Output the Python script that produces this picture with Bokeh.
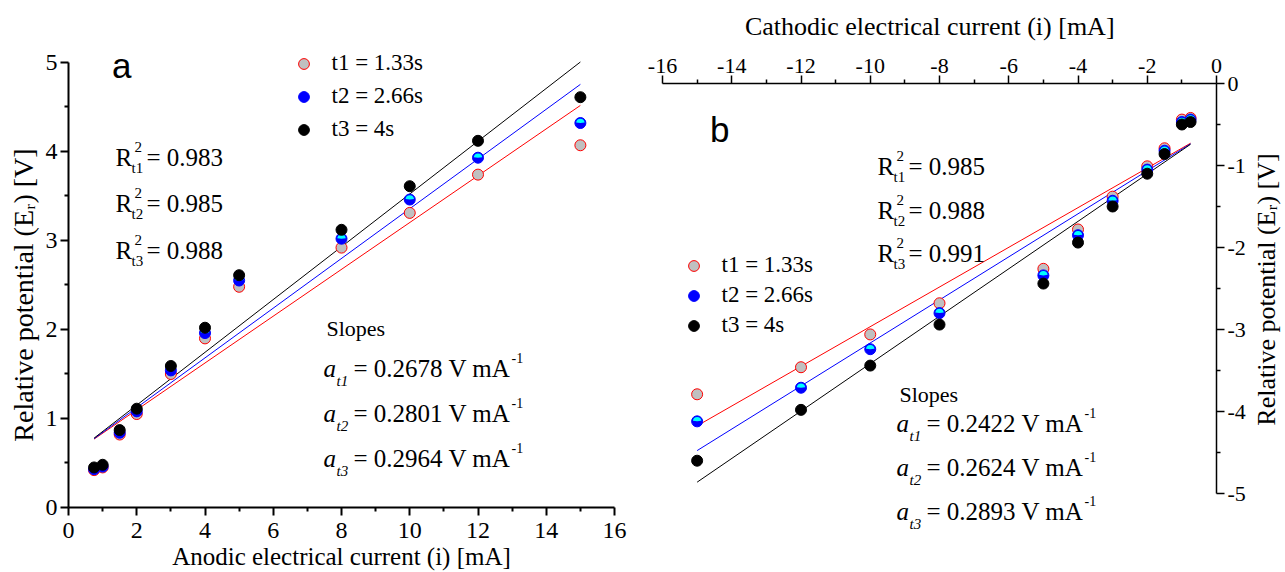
import numpy as np
from bokeh.plotting import figure
from bokeh.layouts import row
from bokeh.models import Label, Legend, LegendItem, FixedTicker, Range1d
from bokeh.embed import file_html
from bokeh.resources import INLINE

# ---------------- data ----------------
anodic_current = [0.75, 1, 1.5, 2, 3, 4, 5, 8, 10, 12, 15]
anodic_t1 = [0.42, 0.45, 0.82, 1.05, 1.50, 1.90, 2.48, 2.92, 3.31, 3.74, 4.07]
anodic_t2 = [0.43, 0.46, 0.84, 1.08, 1.54, 1.96, 2.55, 3.02, 3.46, 3.93, 4.32]
anodic_t3 = [0.45, 0.48, 0.87, 1.11, 1.59, 2.02, 2.61, 3.12, 3.61, 4.12, 4.61]

cathodic_current = [-15, -12, -10, -8, -5, -4, -3, -2, -1.5, -1, -0.75]
cathodic_t1 = [-3.79, -3.46, -3.06, -2.68, -2.26, -1.78, -1.38, -1.01, -0.79, -0.44, -0.42]
cathodic_t2 = [-4.12, -3.71, -3.24, -2.80, -2.34, -1.85, -1.43, -1.05, -0.82, -0.47, -0.44]
cathodic_t3 = [-4.60, -3.98, -3.44, -2.94, -2.44, -1.94, -1.50, -1.10, -0.86, -0.50, -0.47]

series_labels = ["t1 = 1.33s", "t2 = 2.66s", "t3 = 4s"]
r2_anodic = ["0.983", "0.985", "0.988"]
r2_cathodic = ["0.985", "0.988", "0.991"]
slopes_anodic = ["0.2678", "0.2801", "0.2964"]
slopes_cathodic = ["0.2422", "0.2624", "0.2893"]
subs = ["t1", "t2", "t3"]

x_ticks_a = [0, 2, 4, 6, 8, 10, 12, 14, 16]
x_minor_a = [1, 3, 5, 7, 9, 11, 13, 15]
y_ticks_a = [0, 1, 2, 3, 4, 5]
y_minor_a = [0.5, 1.5, 2.5, 3.5, 4.5]
x_ticks_c = [-16, -14, -12, -10, -8, -6, -4, -2, 0]
x_minor_c = [-15, -13, -11, -9, -7, -5, -3, -1]
y_ticks_c = [-5, -4, -3, -2, -1, 0]
y_minor_c = [-4.5, -3.5, -2.5, -1.5, -0.5]

title_anodic_x = "Anodic electrical current (i) [mA]"
title_cathodic_x = "Cathodic electrical current (i) [mA]"
title_potential = "Relative potential (E\u1d63) [V]"

SERIF = "Liberation Serif"
SANS = "Liberation Sans"
AX_FONT_L = "Times New Roman"
AX_FONT_R = "'Liberation Serif', serif"
NB = "\u00a0"  # non-breaking space, used to nudge centred axis titles


def style_axis(ax, lw, size, ticks, minor, font, standoff=3):
    ax.ticker = FixedTicker(ticks=ticks, minor_ticks=minor)
    ax.major_label_overrides = {t: str(t) for t in ticks}
    ax.axis_line_width = lw
    ax.axis_line_color = "black"
    ax.major_tick_line_width = lw
    ax.minor_tick_line_width = lw
    ax.major_tick_line_color = "black"
    ax.minor_tick_line_color = "black"
    ax.major_tick_in = 0
    ax.major_tick_out = 8
    ax.minor_tick_in = 0
    ax.minor_tick_out = 4
    ax.major_label_text_font = font
    ax.major_label_text_font_size = f"{size}px"
    ax.major_label_text_color = "black"
    ax.major_label_standoff = standoff
    ax.axis_label_text_font = font
    ax.axis_label_text_font_style = "normal"
    ax.axis_label_text_color = "black"


def put(fig, fl, fb, x, y, text, size, font=SERIF, style="normal", align="left", angle=0.0):
    fig.add_layout(Label(x=x - fl, y=fb - y, x_units="screen", y_units="screen", text=text,
                         text_font=font, text_font_size=f"{size}px", text_font_style=style,
                         text_align=align, text_baseline="alphabetic", angle=angle,
                         text_color="black"))


def draw_series(fig, x, ys):
    xa = np.array(x, dtype=float)
    colors = ["red", "blue", "black"]
    for yv, c in zip(ys, colors):
        k, b = np.polyfit(xa, np.array(yv, dtype=float), 1)
        xs = np.array([xa.min(), xa.max()])
        fig.line(xs, k * xs + b, line_color=c, line_width=1)
    r1 = fig.scatter(x, ys[0], size=11, fill_color="#c0c0c0", line_color="red", line_width=1)
    r2 = fig.scatter(x, ys[1], size=11, fill_color="blue", line_color="blue", line_width=1)
    fig.wedge(x, ys[1], radius=4.3, radius_units="screen", start_angle=0.12, end_angle=np.pi - 0.12,
              fill_color="cyan", line_color=None)
    r3 = fig.scatter(x, ys[2], size=11, fill_color="black", line_color="black", line_width=1)
    return [r1, r2, r3]


def add_legend(fig, rs, vx, vy, spacing, font):
    items = [LegendItem(label=l, renderers=[r]) for l, r in zip(series_labels, rs)]
    lg = Legend(items=items, location=(vx, vy), border_line_color=None, background_fill_alpha=0,
                padding=0, margin=0, spacing=spacing, glyph_width=27, glyph_height=27,
                label_standoff=15, label_text_font=font, label_text_font_size="23px",
                label_text_color="black", label_height=20)
    fig.add_layout(lg)


def r2_block(fig, fl, fb, x, ys, vals):
    for y, s, v in zip(ys, subs, vals):
        put(fig, fl, fb, x, y, "R", 25)
        put(fig, fl, fb, x + 19, y - 11, "2", 15)
        put(fig, fl, fb, x + 16, y + 10, s, 15)
        put(fig, fl, fb, x + 31, y, "= " + v, 25)


def slope_block(fig, fl, fb, x, ytitle, ys, vals):
    put(fig, fl, fb, x + 3, ytitle, "Slopes", 22)
    for y, s, v in zip(ys, subs, vals):
        put(fig, fl, fb, x, y, "a", 25, style="italic")
        put(fig, fl, fb, x + 13, y + 12, s, 15, style="italic")
        put(fig, fl, fb, x + 30, y, "= " + v + " V mA", 25)
        put(fig, fl, fb, x + 188, y - 11, "-1", 14)


H = 572

# ---------------- left panel (anodic) ----------------
# frame: x 68..614 (0..16), y 40..507; the axis itself stops at 5 (y=62)
FL1, FB1 = 68, 507
p1 = figure(width=640, height=H, x_range=Range1d(0, 16), y_range=Range1d(0, 5.247),
            output_backend="svg", toolbar_location=None,
            min_border_left=68, min_border_right=26, min_border_top=40, min_border_bottom=H - 507)
p1.frame_align = False
p1.outline_line_color = None
p1.grid.visible = False
style_axis(p1.xaxis[0], 2, 24, x_ticks_a, x_minor_a, AX_FONT_L, standoff=7)
style_axis(p1.yaxis[0], 2, 24, y_ticks_a, y_minor_a, AX_FONT_L)
p1.yaxis[0].bounds = (0, 5)
p1.xaxis[0].axis_label = title_anodic_x
p1.xaxis[0].axis_label_text_font_size = "25px"
p1.xaxis[0].axis_label_standoff = 2
p1.yaxis[0].axis_label = title_potential + NB * 6
p1.yaxis[0].axis_label_text_font_size = "28px"
p1.yaxis[0].axis_label_standoff = 4

rs1 = draw_series(p1, anodic_current, [anodic_t1, anodic_t2, anodic_t3])
add_legend(p1, rs1, 221.5, 364.5, 6, AX_FONT_L)

put(p1, FL1, FB1, 111.5, 65, "a", 35, font=SANS)
r2_block(p1, FL1, FB1, 115, [157, 203, 250], r2_anodic)
slope_block(p1, FL1, FB1, 323, 328, [368, 413, 458], slopes_anodic)

# ---------------- right panel (cathodic) ----------------
# frame: x 662..1216 (-16..0), y 83..530; the axis itself stops at -5 (y=493)
FL2, FB2 = 662, 530
p2 = figure(width=608, height=H, x_range=Range1d(-16, 0), y_range=Range1d(-5.451, 0),
            x_axis_location="above", y_axis_location="right",
            output_backend="svg", toolbar_location=None,
            min_border_left=22, min_border_right=32, min_border_top=83, min_border_bottom=H - 530)
p2.frame_align = False
p2.outline_line_color = None
p2.grid.visible = False
style_axis(p2.xaxis[0], 1.5, 22, x_ticks_c, x_minor_c, AX_FONT_R)
style_axis(p2.yaxis[0], 1.5, 22, y_ticks_c, y_minor_c, AX_FONT_R)
p2.yaxis[0].bounds = (-5, 0)
p2.xaxis[0].axis_label = title_cathodic_x + NB * 3
p2.xaxis[0].axis_label_text_font_size = "26px"
p2.xaxis[0].axis_label_standoff = 15

rs2 = draw_series(p2, cathodic_current, [cathodic_t1, cathodic_t2, cathodic_t3])
add_legend(p2, rs2, 17.5, 530 - 338.5, 3, AX_FONT_R)

put(p2, FL2, FB2, 709.5, 129, "b", 35, font=SANS)
r2_block(p2, FL2, FB2, 877, [166, 210, 253], r2_cathodic)
slope_block(p2, FL2, FB2, 896, 394, [423, 467, 511], slopes_cathodic)

# ---------------- narrow strip holding the right-hand axis title ----------------
# (a left-side axis title reads bottom-to-top, like the reference; its frame is
#  placed so that the title is centred on the potential axis, y 150..428)
p3 = figure(width=36, height=H, x_range=Range1d(0, 1), y_range=Range1d(0, 1),
            x_axis_location=None, y_axis_location="left",
            output_backend="svg", toolbar_location=None,
            min_border_left=32, min_border_right=0, min_border_top=150, min_border_bottom=H - 428)
p3.frame_align = False
p3.outline_line_color = None
p3.grid.visible = False
ax3 = p3.yaxis[0]
ax3.ticker = FixedTicker(ticks=[])
ax3.axis_line_color = None
ax3.major_tick_out = 0
ax3.major_tick_in = 0
ax3.minor_tick_out = 0
ax3.minor_tick_in = 0
ax3.major_label_standoff = 0
ax3.axis_label = title_potential
ax3.axis_label_text_font = AX_FONT_R
ax3.axis_label_text_font_size = "26px"
ax3.axis_label_text_font_style = "normal"
ax3.axis_label_text_color = "black"
ax3.axis_label_standoff = 0

layout = row(p1, p2, p3)
open("out.html", "w").write(file_html(layout, INLINE))
